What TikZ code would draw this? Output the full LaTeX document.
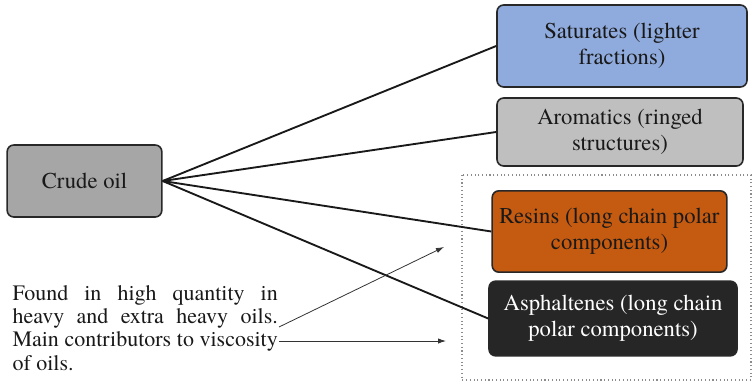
\documentclass[tikz,border=0pt]{standalone}
\usepackage{fontspec}
\setmainfont{TeX Gyre Termes}
\usetikzlibrary{arrows.meta}

\definecolor{boxline}{RGB}{40,40,40}
\definecolor{crudefill}{RGB}{166,166,166}
\definecolor{satfill}{RGB}{143,170,220}
\definecolor{aromfill}{RGB}{191,191,191}
\definecolor{resinfill}{RGB}{197,90,17}
\definecolor{asphfill}{RGB}{38,38,38}
\definecolor{txt}{RGB}{25,25,25}

\tikzset{every picture/.style={line width=0.75pt}}
\tikzset{
  fracbox/.style={draw=boxline, line width=1.2pt, rounded corners=5pt, align=center,
    inner sep=0pt, text=txt, font=\fontsize{17}{19.5}\selectfont},
  branch/.style={draw=black!90, line width=1.4pt},
  pointer/.style={draw=black!80, line width=0.6pt, -{Latex[length=6pt,width=4pt]}}
}

\begin{document}
\begin{tikzpicture}[x=0.75pt,y=0.75pt,yscale=-1,xscale=1]
\useasboundingbox (0,0) rectangle (753,382);

%Shape: Dotted group [id:grp]
\draw [color={rgb, 255:red, 140; green, 140; blue, 140 }, dotted, line width=0.8pt] (462,175) rectangle (751,380) ;

%Nodes
\node (crude) [fracbox, fill=crudefill, minimum width=116pt, minimum height=54pt] at (84.5,181) {Crude oil};
\node (sat) [fracbox, fill=satfill, minimum width=187.5pt, minimum height=61.5pt] at (622,46) {Saturates (lighter\\fractions)};
\node (arom) [fracbox, fill=aromfill, minimum width=184.5pt, minimum height=51pt] at (620,132) {Aromatics (ringed\\structures)};
\node (resin) [fracbox, fill=resinfill, minimum width=176pt, minimum height=61pt] at (609.5,231.5) {Resins (long chain polar\\components)};
\node (asph) [fracbox, fill=asphfill, text=white, minimum width=186pt, minimum height=56pt] at (613,318.5) {Asphaltenes (long chain\\polar components)};

%Straight Lines
\draw [branch] (crude.east) -- (sat.west) ;
\draw [branch] (crude.east) -- (arom.west) ;
\draw [branch] (crude.east) -- (resin.west) ;
\draw [branch] (crude.east) -- (asph.west) ;

%Text note
\node (note) [anchor=north west, text width=199pt, align=justify, inner sep=0pt, text=txt,
  font=\fontsize{16.5}{17.6}\selectfont] at (12,284.5)
  {Found in high quantity in heavy and extra heavy oils. Main contributors to viscosity of oils.};

%Arrows
\coordinate (n1) at (279,327) ;
\coordinate (n2) at (279,341) ;
\coordinate (t1) at (444,247) ;
\coordinate (t2) at (446,341) ;
\draw [pointer] (n1) -- (t1) ;
\draw [pointer] (n2) -- (t2) ;

\end{tikzpicture}
\end{document}
